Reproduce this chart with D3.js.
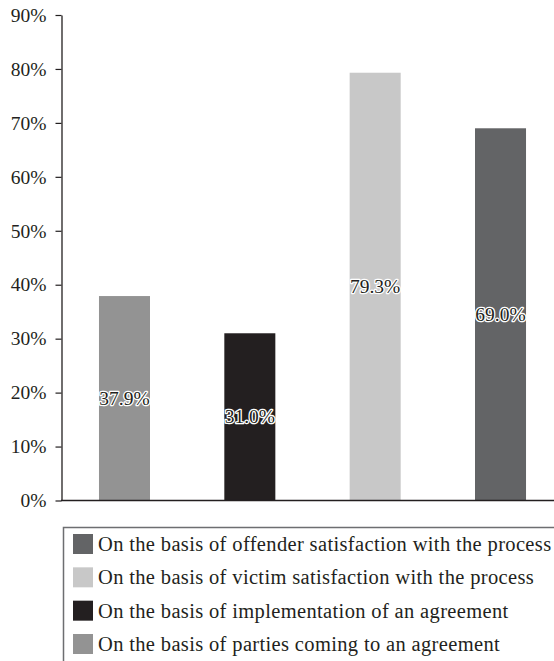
<!DOCTYPE html>
<html>
<head>
<meta charset="utf-8">
<script src="https://cdn.jsdelivr.net/npm/d3@7"></script>
<style>
  html, body { margin: 0; padding: 0; background: #fff; }
  svg { display: block; }
  text { font-family: "Liberation Serif", "Times New Roman", serif; fill: #231f20; }
</style>
</head>
<body>
<svg id="chart" width="554" height="661"></svg>
<script>
// Categories in drawing order (left to right)
const categories = [
  "On the basis of parties coming to an agreement",
  "On the basis of implementation of an agreement",
  "On the basis of victim satisfaction with the process",
  "On the basis of offender satisfaction with the process"
];
// Share of cases (%)
const values = [37.9, 31.0, 79.3, 69.0];
const barColors = ["#939393", "#231f20", "#c8c8c8", "#636466"];
const yTicks = [0, 10, 20, 30, 40, 50, 60, 70, 80, 90];
// Legend lists the categories from last to first
const legendOrder = [3, 2, 1, 0];

const svg = d3.select("#chart");
const ink = "#231f20";

const x = d3.scaleBand()
  .domain(categories)
  .range([62, 563])
  .paddingInner(0.593)
  .paddingOuter(0.295);

const y = d3.scaleLinear()
  .domain([0, 90])
  .range([500.5, 15]);

// Y axis
const yAxis = svg.append("g")
  .attr("transform", "translate(61.5,0)")
  .call(d3.axisLeft(y).tickValues(yTicks).tickFormat(d => d + "%").tickSize(6).tickPadding(9).tickSizeOuter(0));
yAxis.select(".domain").attr("stroke", ink).attr("stroke-width", 1.3);
yAxis.selectAll(".tick line").attr("stroke", ink).attr("stroke-width", 1.2);
yAxis.selectAll(".tick text")
  .attr("fill", ink)
  .style("font-family", "'Liberation Serif', serif")
  .style("font-size", "19.5px");

// Bars
svg.append("g").selectAll("rect")
  .data(values)
  .join("rect")
  .attr("x", (d, i) => x(categories[i]))
  .attr("y", d => y(d))
  .attr("width", x.bandwidth())
  .attr("height", d => y(0) - y(d))
  .attr("fill", (d, i) => barColors[i]);

// X axis baseline
svg.append("line")
  .attr("x1", 61).attr("x2", 563)
  .attr("y1", y(0)).attr("y2", y(0))
  .attr("stroke", ink).attr("stroke-width", 1.3);

// Value labels centred in each bar, dark text with a white halo
svg.append("g").selectAll("text")
  .data(values)
  .join("text")
  .attr("x", (d, i) => x(categories[i]) + x.bandwidth() / 2)
  .attr("y", d => (y(d) + y(0)) / 2)
  .attr("text-anchor", "middle")
  .attr("dominant-baseline", "central")
  .attr("stroke", "#fff")
  .attr("stroke-width", 2.6)
  .attr("stroke-linejoin", "round")
  .attr("paint-order", "stroke")
  .style("font-size", "19.5px")
  .text(d => d.toFixed(1) + "%");

// Legend box
const legend = svg.append("g");
legend.append("path")
  .attr("d", "M63.5,670 V527.5 H560")
  .attr("fill", "none")
  .attr("stroke", "#6d6e71")
  .attr("stroke-width", 1.5);

const rowY = d3.scalePoint().domain(d3.range(legendOrder.length)).range([544, 644]);
const rows = legend.selectAll("g.row")
  .data(legendOrder)
  .join("g")
  .attr("class", "row")
  .attr("transform", (d, i) => `translate(73,${rowY(i)})`);
rows.append("rect")
  .attr("x", 0).attr("y", -10)
  .attr("width", 20).attr("height", 20)
  .attr("fill", d => barColors[d]);
rows.append("text")
  .attr("x", 25)
  .attr("y", 0)
  .attr("dominant-baseline", "central")
  .style("font-size", "20.5px")
  .style("letter-spacing", "0.35px")
  .text(d => categories[d]);
</script>
</body>
</html>
